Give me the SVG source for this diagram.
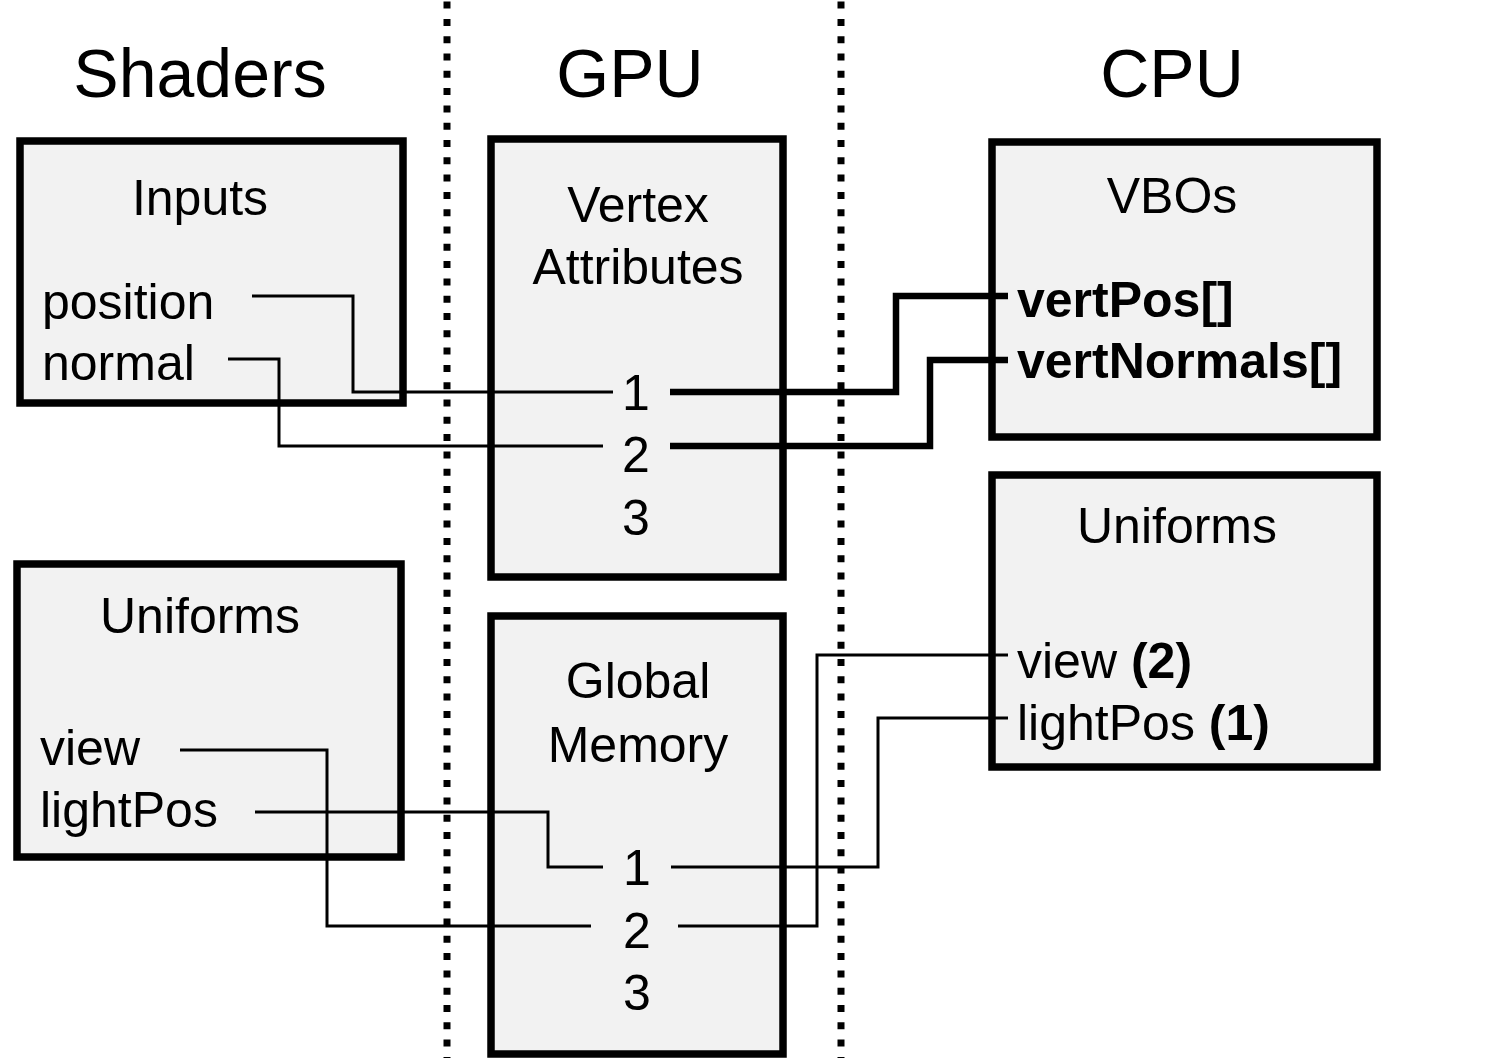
<svg xmlns="http://www.w3.org/2000/svg" width="1500" height="1058" viewBox="0 0 1500 1058">
<style>
.box{fill:#f2f2f2;stroke:#000;stroke-width:7.5}
text{font-family:"Liberation Sans",Arial,Helvetica,sans-serif;fill:#000}
.h{font-size:68px;text-anchor:middle}
.t{font-size:50px;text-anchor:middle}
.l{font-size:50px}
.b{font-weight:bold}
.thin{fill:none;stroke:#000;stroke-width:3;stroke-linejoin:miter}
.thick{fill:none;stroke:#000;stroke-width:6.5;stroke-linejoin:miter}
.sep{stroke:#000;stroke-width:7;stroke-dasharray:7 10.3}
</style>
<rect width="1500" height="1058" fill="#fff"/>
<g id="separators">
<line class="sep" x1="447" y1="1.6" x2="447" y2="1058"/>
<line class="sep" x1="841" y1="1.6" x2="841" y2="1058"/>
</g>
<g id="headers">
<text class="h" x="200" y="97">Shaders</text>
<text class="h" x="630" y="97">GPU</text>
<text class="h" x="1172" y="97">CPU</text>
</g>
<g id="shader-inputs">
<rect class="box" x="20" y="141" width="383" height="262"/>
<text class="t" x="200" y="215">Inputs</text>
<text class="l" x="42" y="319">position</text>
<text class="l" x="42" y="380">normal</text>
</g>
<g id="shader-uniforms">
<rect class="box" x="17" y="564" width="384" height="293"/>
<text class="t" x="200" y="633">Uniforms</text>
<text class="l" x="40" y="765">view</text>
<text class="l" x="40" y="827">lightPos</text>
</g>
<g id="vertex-attributes">
<rect class="box" x="491" y="139" width="292" height="438"/>
<text class="t" x="638" y="222">Vertex</text>
<text class="t" x="638" y="284">Attributes</text>
<text class="t" x="636" y="410">1</text>
<text class="t" x="636" y="472">2</text>
<text class="t" x="636" y="535">3</text>
</g>
<g id="global-memory">
<rect class="box" x="491" y="616" width="292" height="438"/>
<text class="t" x="638" y="698">Global</text>
<text class="t" x="638" y="762">Memory</text>
<text class="t" x="637" y="885">1</text>
<text class="t" x="637" y="948">2</text>
<text class="t" x="637" y="1010">3</text>
</g>
<g id="vbos">
<rect class="box" x="992" y="142" width="385" height="295"/>
<text class="t" x="1172" y="213">VBOs</text>
<text class="l b" x="1017" y="317">vertPos[]</text>
<text class="l b" x="1017" y="378">vertNormals[]</text>
</g>
<g id="cpu-uniforms">
<rect class="box" x="992" y="475" width="385" height="292"/>
<text class="t" x="1177" y="543">Uniforms</text>
<text class="l" x="1017" y="678">view <tspan class="b">(2)</tspan></text>
<text class="l" x="1017" y="740">lightPos <tspan class="b">(1)</tspan></text>
</g>
<g id="connectors">
<polyline class="thin" points="252,296 353,296 353,392 613,392"/>
<polyline class="thin" points="228,359 279,359 279,446 603,446"/>
<polyline class="thick" points="670,392 896,392 896,296 1008,296"/>
<polyline class="thick" points="670,446 930,446 930,360 1008,360"/>
<polyline class="thin" points="255,812 548,812 548,867 603,867"/>
<polyline class="thin" points="180,750 327,750 327,926 591,926"/>
<polyline class="thin" points="671,867 878,867 878,718 1008,718"/>
<polyline class="thin" points="678,926 817,926 817,655 1008,655"/>
</g>
</svg>
